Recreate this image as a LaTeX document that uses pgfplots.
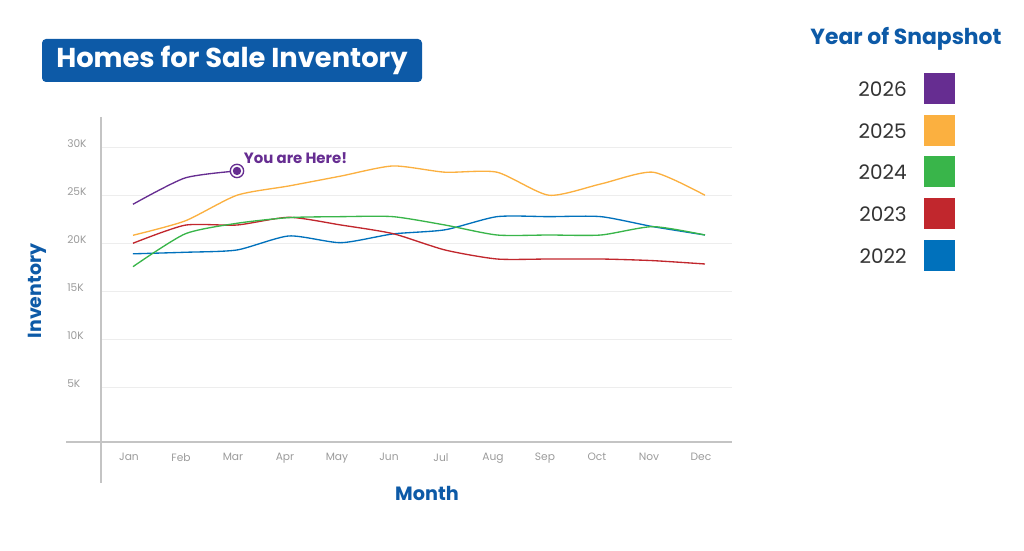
\documentclass[border=0pt]{standalone}
\usepackage{pgfplots}
\pgfplotsset{compat=1.18}
\usepackage{fontspec}
\setmainfont{Poppins}
\definecolor{cPurple}{HTML}{662D91}
\definecolor{cYellow}{HTML}{FBB040}
\definecolor{cGreen}{HTML}{39B54A}
\definecolor{cRed}{HTML}{C1272D}
\definecolor{cBlue}{HTML}{0071BC}
\definecolor{cTitle}{HTML}{0D5AA7}
\definecolor{cTick}{HTML}{9B9B9B}
\definecolor{cAxis}{HTML}{C4C4C4}
\definecolor{cGrid}{HTML}{EDEDED}
\definecolor{cText}{HTML}{333333}
\begin{document}
\begin{tikzpicture}
\begin{scope}[shift={(0pt,412.5pt)}, x=0.75pt, y=-0.75pt]
\path[use as bounding box] (0,0) rectangle (1024,550);
\end{scope}
\begin{axis}[
  at={(75.75pt,81pt)}, anchor=south west,
  scale only axis, width=473.25pt, height=243.75pt,
  xmin=-0.615, xmax=11.52, ymin=-700, ymax=33150,
  axis line style={draw=none},
  major tick length=0pt,
  xtick={0,...,11},
  xticklabels={Jan,Feb,Mar,Apr,May,Jun,Jul,Aug,Sep,Oct,Nov,Dec},
  ytick={5000,10000,15000,20000,25000,30000},
  yticklabels={5K,10K,15K,20K,25K,30K},
  scaled y ticks=false,
  ymajorgrids, grid style={cGrid, line width=0.6pt},
  tick label style={text=cTick, font=\fontsize{8}{10}\selectfont},
  yticklabel style={anchor=west, inner sep=0pt, xshift=-25.5pt, yshift=3pt},
  xticklabel style={yshift=-5pt, xshift=-3pt},
  clip=false,
  every axis plot/.append style={smooth, tension=0.4, line width=1pt, no markers},
]
\addplot[cBlue] coordinates {(0,18900)(1,19060)(2,19300)(3,20760)(4,20060)(5,20970)(6,21400)(7,22770)(8,22770)(9,22770)(10,21730)(11,20860)};
\addplot[cRed] coordinates {(0,20000)(1,21880)(2,21900)(3,22700)(4,21900)(5,21000)(6,19300)(7,18360)(8,18360)(9,18360)(10,18190)(11,17840)};
\addplot[cGreen] coordinates {(0,17560)(1,20970)(2,22080)(3,22670)(4,22770)(5,22770)(6,21900)(7,20860)(8,20860)(9,20860)(10,21730)(11,20860)};
\addplot[cYellow] coordinates {(0,20830)(1,22320)(2,25000)(3,25970)(4,27000)(5,28050)(6,27400)(7,27400)(8,25000)(9,26180)(10,27400)(11,25000)};
\addplot[cPurple] coordinates {(0,24060)(1,26800)(2,27530)};
\addplot[only marks, mark=*, mark size=5pt, mark options={draw=cPurple, fill=white, line width=1pt}] coordinates {(2,27530)};
\addplot[only marks, mark=*, mark size=2.6pt, mark options={draw=cPurple, fill=cPurple}] coordinates {(2,27530)};
\node[anchor=west, inner sep=0pt, xshift=5pt, yshift=9.5pt, text=cPurple, font=\bfseries\fontsize{11.2}{13}\selectfont] at (axis cs:2,27530) {You are Here!};
\end{axis}
\begin{scope}[shift={(0pt,412.5pt)}, x=0.75pt, y=-0.75pt]
\draw[cAxis, line width=0.9pt] (101,117) -- (101,483);
\draw[cAxis, line width=0.9pt] (66,442) -- (732,442);
\fill[cTitle, rounded corners=3pt] (42,39) rectangle (422,82);
\node[text=white, font=\bfseries\fontsize{20.5}{24}\selectfont] at (232,60) {Homes for Sale Inventory};
\node[text=cTitle, font=\bfseries\fontsize{14.4}{17}\selectfont] at (427,493) {Month};
\node[text=cTitle, font=\bfseries\fontsize{14.2}{17}\selectfont, rotate=90] at (37,291) {Inventory};
\node[text=cTitle, font=\bfseries\fontsize{16.4}{19}\selectfont] at (906,39) {Year of Snapshot};
\foreach \yy/\lab/\col in {89/2026/cPurple, 131/2025/cYellow, 172/2024/cGreen, 214/2023/cRed, 256/2022/cBlue} {
  \node[anchor=east, inner sep=0pt, text=cText, font=\fontsize{15}{18}\selectfont] at (907,\yy) {\lab};
  \fill[\col] (924,\yy-15.5) rectangle (955,\yy+15.5);
}
\end{scope}
\end{tikzpicture}
\end{document}
